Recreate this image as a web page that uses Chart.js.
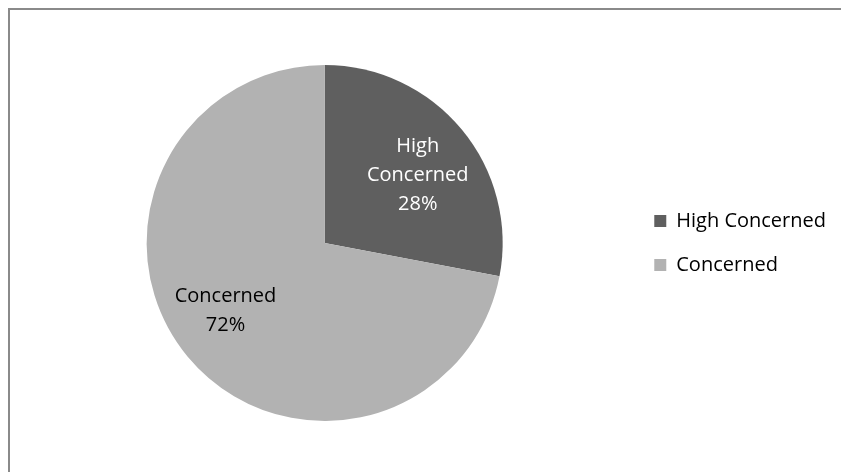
<!DOCTYPE html>
<html>
<head>
<meta charset="utf-8">
<script src="https://cdn.jsdelivr.net/npm/chart.js@4"></script>
<style>
  html, body { margin: 0; padding: 0; background: #fff; }
  #wrap { position: relative; width: 841px; height: 472px; overflow: hidden; }
  #frame { position: absolute; left: 8px; top: 8px; width: 900px; height: 500px;
           border-left: 2px solid #8a8a8a; border-top: 2px solid #8a8a8a; }
  #chart { position: absolute; left: 0; top: 0; }
</style>
</head>
<body>
<div id="wrap">
  <div id="frame"></div>
  <canvas id="chart" width="841" height="472"></canvas>
</div>
<script>
//Pie data
const categories = ['High Concerned', 'Concerned'];
const shares = [28, 72];
const sliceColors = ['#5f5f5f', '#b2b2b2'];
const labelColors = ['#ffffff', '#000000'];

const fontFamily = "'Open Sans', sans-serif";

//Data labels inside the slices (category + percent)
const sliceLabels = {
    id: 'sliceLabels',
    afterDatasetsDraw(chart, args, opts) {
        const ctx = chart.ctx;
        const meta = chart.getDatasetMeta(0);
        const total = shares.reduce((a, b) => a + b, 0);
        ctx.save();
        ctx.font = '20px ' + fontFamily;
        ctx.textAlign = 'center';
        ctx.textBaseline = 'middle';
        meta.data.forEach((arc, i) => {
            const p = arc.getProps(['x', 'y', 'startAngle', 'endAngle', 'outerRadius'], true);
            const mid = (p.startAngle + p.endAngle) / 2;
            const r = p.outerRadius * opts.distance;
            const off = opts.offsets[i];
            const x = p.x + Math.cos(mid) * r + off[0];
            const y = p.y + Math.sin(mid) * r + off[1];
            const lines = categories[i].split(' ');
            lines.push(Math.round(shares[i] / total * 100) + '%');
            const top = y - (lines.length - 1) * opts.lineHeight / 2;
            ctx.fillStyle = labelColors[i];
            lines.forEach((line, j) => ctx.fillText(line, x, top + j * opts.lineHeight));
        });
        ctx.restore();
    }
};

const pieChart = new Chart(document.getElementById('chart'), {
    type: 'pie',
    data: {
        labels: categories,
        datasets: [{
            data: shares,
            backgroundColor: sliceColors,
            borderWidth: 0,
        }]
    },
    options: {
        responsive: false,
        animation: false,
        layout: { padding: { left: 19, right: 5, top: 65, bottom: 51 } },
        plugins: {
            legend: {
                position: 'right',
                labels: {
                    boxWidth: 12,
                    boxHeight: 12,
                    padding: 24,
                    color: '#000000',
                    font: { family: fontFamily, size: 20 },
                },
            },
            tooltip: { enabled: false },
            sliceLabels: { distance: 0.65, lineHeight: 29, offsets: [[4, 6], [-10, -6]] },
        },
    },
    plugins: [sliceLabels],
});
</script>
</body>
</html>
